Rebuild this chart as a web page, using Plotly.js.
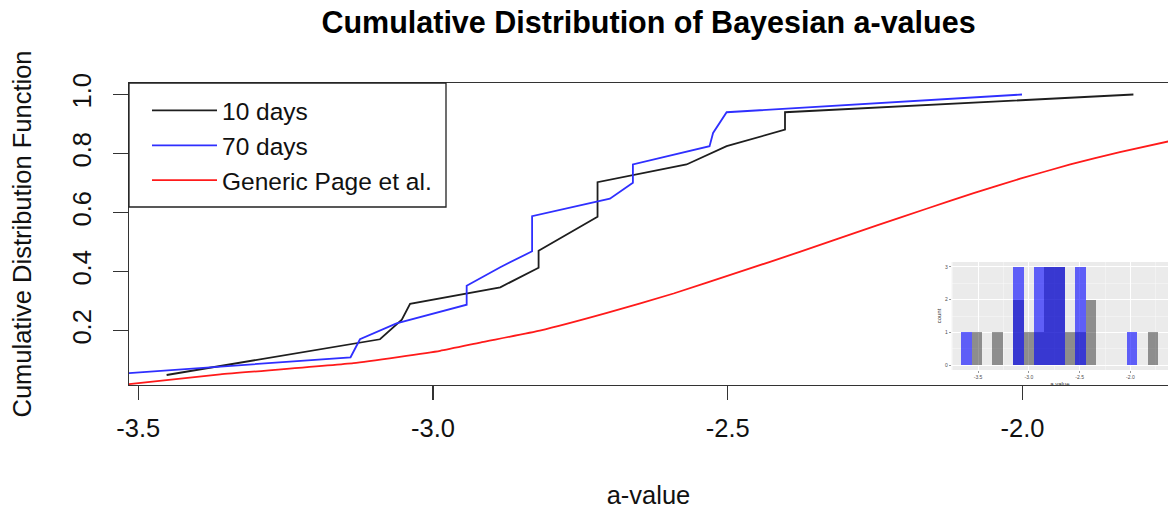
<!DOCTYPE html>
<html>
<head>
<meta charset="utf-8">
<script src="https://cdn.plot.ly/plotly-3.0.1.min.js"></script>
<style>
  html, body { margin: 0; padding: 0; background: #ffffff; }
  #chart { width: 1168px; height: 514px; }
</style>
</head>
<body>
<div id="chart"></div>
<script>
// Sorted a-values joined by straight segments, with their cumulative fractions
const aValue10 = [-3.452, -3.300, -3.090, -3.053, -3.039, -2.886, -2.821, -2.821, -2.721, -2.721, -2.570, -2.502, -2.403, -2.403, -1.812];
const cdf10    = [0.050, 0.100, 0.171, 0.237, 0.291, 0.347, 0.413, 0.471, 0.586, 0.703, 0.763, 0.825, 0.881, 0.940, 1.000];

const aValue70 = [-3.516, -3.140, -3.124, -3.062, -2.943, -2.943, -2.886, -2.832, -2.832, -2.700, -2.661, -2.661, -2.531, -2.525, -2.502, -2.001];
const cdf70    = [0.056, 0.110, 0.171, 0.225, 0.288, 0.352, 0.415, 0.469, 0.588, 0.647, 0.701, 0.763, 0.825, 0.870, 0.940, 1.000];

// Generic Page et al. curve
const aValuePage = [-3.516, -3.361, -3.135, -2.988, -2.920, -2.819, -2.705, -2.592, -2.479, -2.378, -2.247, -2.163, -2.083, -2.004, -1.919, -1.835, -1.753];
const cdfPage    = [0.019, 0.052, 0.090, 0.132, 0.160, 0.200, 0.260, 0.326, 0.400, 0.467, 0.557, 0.613, 0.666, 0.715, 0.763, 0.805, 0.841];

// Histogram of the two samples (inset)
const binCenters = [-3.614, -3.512, -3.410, -3.308, -3.206, -3.104, -3.002, -2.900, -2.798, -2.696, -2.594, -2.492, -2.390, -2.288, -2.186, -2.084, -1.982, -1.880, -1.778];
const count10    = [0, 1, 0, 1, 0, 2, 1, 1, 3, 3, 1, 1, 2, 0, 0, 0, 0, 0, 1];
const count70    = [1, 0, 0, 0, 0, 3, 0, 3, 3, 3, 0, 3, 0, 0, 0, 0, 1, 0, 0];

// Tick labels
const xTickVals = [-3.5, -3.0, -2.5, -2.0];
const xTickText = ['-3.5', '-3.0', '-2.5', '-2.0'];
const yTickVals = [0.2, 0.4, 0.6, 0.8, 1.0];
const yTickText = ['0.2', '0.4', '0.6', '0.8', '1.0'];
const insetXTickVals = [-3.5, -3.0, -2.5, -2.0];
const insetXTickText = ['-3.5', '-3.0', '-2.5', '-2.0'];
const insetYTickVals = [0, 1, 2, 3];
const insetYTickText = ['0', '1', '2', '3'];

// Page geometry (px)
const W = 1168, H = 514;
const M = { l: 129, r: 0, t: 83, b: 129 };
const plotW = W - M.l - M.r, plotH = H - M.t - M.b;
const px2fx = p => (p - M.l) / plotW;
const py2fy = p => (H - M.b - p) / plotH;

const FONT = 'Liberation Sans, Arial, sans-serif';
const TXT = '#111111';

const traces = [
  { x: aValue10, y: cdf10, name: '10 days', type: 'scatter', mode: 'lines',
    line: { color: '#1e1e1e', width: 1.8 }, xaxis: 'x', yaxis: 'y' },
  { x: aValue70, y: cdf70, name: '70 days', type: 'scatter', mode: 'lines',
    line: { color: '#2f2fff', width: 1.8 }, xaxis: 'x', yaxis: 'y' },
  { x: aValuePage, y: cdfPage, name: 'Generic Page et al.', type: 'scatter', mode: 'lines',
    line: { color: '#ff1a1a', width: 1.8, shape: 'spline', smoothing: 0.4 }, xaxis: 'x', yaxis: 'y' },
  { x: binCenters, y: count10, type: 'bar', width: 0.102, showlegend: false,
    marker: { color: 'rgba(0,0,0,0.4)', line: { width: 0 } }, xaxis: 'x2', yaxis: 'y2' },
  { x: binCenters, y: count70, type: 'bar', width: 0.102, showlegend: false,
    marker: { color: 'rgba(0,0,255,0.6)', line: { width: 0 } }, xaxis: 'x2', yaxis: 'y2' }
];

const layout = {
  width: W, height: H,
  margin: M,
  paper_bgcolor: '#ffffff',
  plot_bgcolor: 'rgba(0,0,0,0)',
  font: { family: FONT, color: TXT, size: 25.5 },
  showlegend: true,
  barmode: 'overlay',
  bargap: 0,
  title: {
    text: 'Cumulative Distribution of Bayesian a-values',
    font: { family: FONT, size: 30.5, weight: 700, color: '#000000' },
    x: 0.5, xref: 'paper', xanchor: 'center',
    y: 1 - 22 / H, yref: 'container', yanchor: 'middle'
  },
  xaxis: {
    range: [-3.5158, -1.7533],
    tickmode: 'array', tickvals: xTickVals, ticktext: xTickText,
    ticks: 'outside', ticklen: 14, tickwidth: 1.3, tickcolor: '#333333',
    showline: true, linecolor: '#333333', linewidth: 1.3, mirror: true,
    showgrid: false, zeroline: false,
    tickfont: { family: FONT, size: 25.5, color: TXT },
    ticklabelstandoff: 6,
    title: { text: 'a-value', font: { family: FONT, size: 25.5, color: TXT }, standoff: 45 }
  },
  yaxis: {
    range: [0.0161, 1.039],
    tickmode: 'array', tickvals: yTickVals, ticktext: yTickText, tickangle: -90,
    ticks: 'outside', ticklen: 15, tickwidth: 1.3, tickcolor: '#333333',
    showline: true, linecolor: '#333333', linewidth: 1.3, mirror: false,
    showgrid: false, zeroline: false,
    tickfont: { family: FONT, size: 25.5, color: TXT },
    ticklabelstandoff: 12,
    title: { text: 'Cumulative Distribution Function', font: { family: FONT, size: 25.5, color: TXT }, standoff: 28 }
  },
  xaxis2: {
    domain: [px2fx(951.7), 1], anchor: 'y2',
    range: [-3.76, -1.63],
    tickmode: 'array', tickvals: insetXTickVals, ticktext: insetXTickText,
    ticks: 'outside', ticklen: 2, tickwidth: 0.6, tickcolor: '#555555',
    showline: false, zeroline: false,
    showgrid: true, gridcolor: '#ffffff', gridwidth: 1,
    minor: { tickmode: 'array', tickvals: [-3.75, -3.25, -2.75, -2.25, -1.75], showgrid: true, gridcolor: '#fafafa', gridwidth: 0.5, ticks: '' },
    tickfont: { family: FONT, size: 5, color: '#4d4d4d' },
    title: { text: 'a.value', font: { family: FONT, size: 6, color: '#333333' }, standoff: 2 }
  },
  yaxis2: {
    domain: [py2fy(370), py2fy(262)], anchor: 'x2',
    range: [-0.15, 3.15],
    tickmode: 'array', tickvals: insetYTickVals, ticktext: insetYTickText,
    ticks: 'outside', ticklen: 2, tickwidth: 0.6, tickcolor: '#555555',
    showline: false, zeroline: false,
    showgrid: true, gridcolor: '#ffffff', gridwidth: 1,
    minor: { tickmode: 'array', tickvals: [0.5, 1.5, 2.5], showgrid: true, gridcolor: '#fafafa', gridwidth: 0.5, ticks: '' },
    tickfont: { family: FONT, size: 5, color: '#4d4d4d' },
    title: { text: 'count', font: { family: FONT, size: 6, color: '#333333' }, standoff: 2 }
  },
  legend: {
    x: px2fx(147), y: py2fy(88), xanchor: 'left', yanchor: 'top',
    xref: 'paper', yref: 'paper',
    bgcolor: 'rgba(0,0,0,0)', borderwidth: 0,
    font: { family: FONT, size: 24.5, color: TXT },
    itemwidth: 65, tracegroupgap: 0
  },
  shapes: [
    // inset panel background
    { type: 'rect', xref: 'x2 domain', yref: 'y2 domain', x0: 0, x1: 1, y0: 0, y1: 1,
      fillcolor: '#ebebeb', line: { width: 0 }, layer: 'below' },
    // legend frame
    { type: 'rect', xref: 'paper', yref: 'paper', x0: 0, x1: px2fx(446), y0: py2fy(207), y1: 1,
      fillcolor: 'rgba(0,0,0,0)', line: { color: '#222222', width: 1.3 }, layer: 'above' }
  ]
};

Plotly.newPlot('chart', traces, layout, { displayModeBar: false, staticPlot: true });
</script>
</body>
</html>
